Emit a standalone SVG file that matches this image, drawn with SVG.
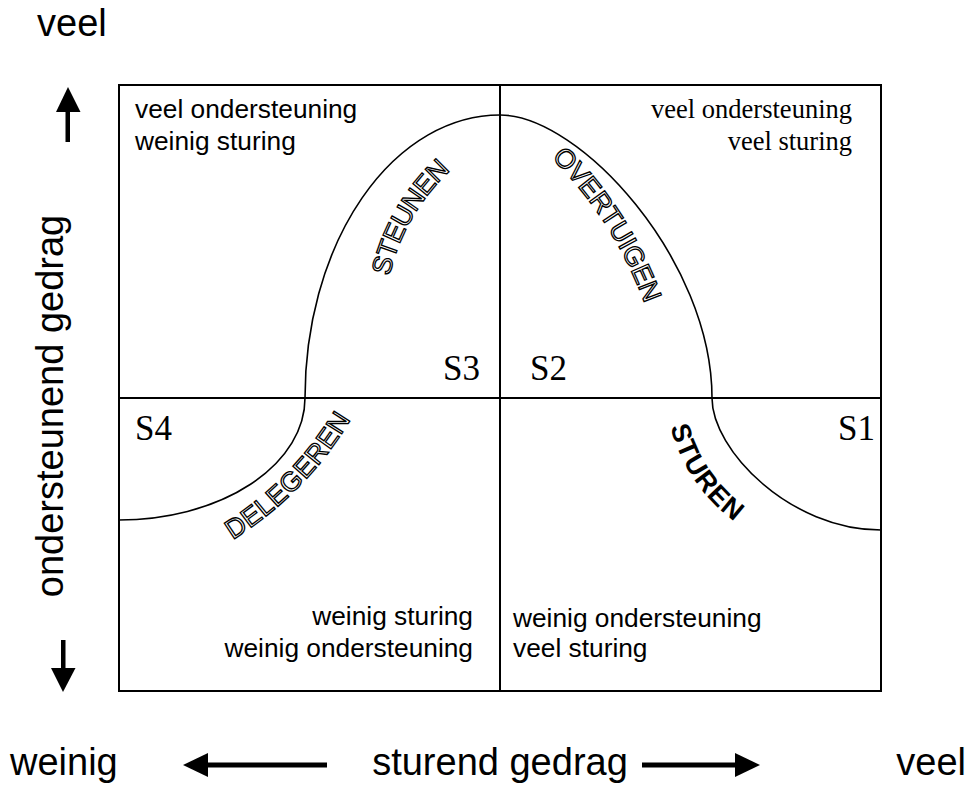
<svg xmlns="http://www.w3.org/2000/svg" width="971" height="787" viewBox="0 0 971 787">
  <style>
    .axis { font-family: "Liberation Sans", Arial, sans-serif; font-size: 38px; fill: #000; }
    .quad { font-family: "Liberation Sans", Arial, sans-serif; font-size: 26.3px; fill: #000; }
    .quad-serif { font-family: "Liberation Serif", "Times New Roman", serif; font-size: 26.5px; fill: #000; }
    .stage { font-family: "Liberation Serif", "Times New Roman", serif; font-size: 35px; fill: #000; }
    .style-outline { font-family: "Liberation Sans", Arial, sans-serif; font-size: 27px; fill: #fff; stroke: #000; stroke-width: 1.3; dominant-baseline: central; }
    .style-solid { font-family: "Liberation Sans", Arial, sans-serif; font-size: 27px; font-weight: bold; fill: #000; dominant-baseline: central; }
    .frame { fill: none; stroke: #000; stroke-width: 2; }
    .curve { fill: none; stroke: #000; stroke-width: 1.6; }
  </style>
  <defs>
    <path id="arc-steunen" d="M376.2,309.1 A210,210 0 0 1 472.4,142.4"/>
    <path id="arc-overtuigen" d="M542.6,137.3 A400,400 0 0 1 659.6,320.3"/>
    <path id="arc-delegeren" d="M204.7,545.5 A350,350 0 0 0 356,390.9"/>
    <path id="arc-sturen" d="M675,400.2 A160,160 0 0 0 760.9,527.3"/>
  </defs>

  <rect width="971" height="787" fill="#fff"/>

  <!-- quadrant grid -->
  <g id="grid">
    <rect class="frame" x="119" y="85" width="762" height="606"/>
    <line class="frame" x1="500" y1="85" x2="500" y2="691"/>
    <line class="frame" x1="119" y1="398" x2="881" y2="398"/>
  </g>

  <!-- situational leadership bell curve -->
  <g id="connectors">
    <path class="curve" d="M119,520 A186,122 0 0 0 305,398 A195,283 0 0 1 500,115 C580,115 712,260 712,398 C712,450 790,530 881,530"/>
  </g>

  <!-- axes -->
  <g id="axis-vertical">
    <text class="axis" x="37" y="36">veel</text>
    <rect x="65.5" y="111" width="4.5" height="31"/>
    <polygon points="56,112 80.5,112 68,87"/>
    <text class="axis" transform="translate(63,406) rotate(-90)" text-anchor="middle">ondersteunend gedrag</text>
    <rect x="61" y="640" width="4.5" height="29"/>
    <polygon points="51,668 75.5,668 63,692"/>
  </g>
  <g id="axis-horizontal">
    <text class="axis" x="10" y="775">weinig</text>
    <rect x="207" y="762.5" width="120" height="5"/>
    <polygon points="208,753 208,777 183,765"/>
    <text class="axis" x="500" y="775" text-anchor="middle">sturend gedrag</text>
    <rect x="642" y="762.5" width="95" height="5"/>
    <polygon points="735,753 735,777 760,765"/>
    <text class="axis" x="966" y="775" text-anchor="end">veel</text>
  </g>

  <!-- quadrant descriptions -->
  <g id="quadrant-s3">
    <text class="quad" x="135" y="118">veel ondersteuning</text>
    <text class="quad" x="135" y="150">weinig sturing</text>
    <text class="stage" x="480" y="380" text-anchor="end">S3</text>
    <text class="style-outline"><textPath href="#arc-steunen" startOffset="50%" text-anchor="middle">STEUNEN</textPath></text>
  </g>
  <g id="quadrant-s2">
    <text class="quad-serif" x="852" y="118" text-anchor="end">veel ondersteuning</text>
    <text class="quad-serif" x="852" y="150" text-anchor="end">veel sturing</text>
    <text class="stage" x="530" y="380">S2</text>
    <text class="style-outline"><textPath href="#arc-overtuigen" startOffset="50%" text-anchor="middle">OVERTUIGEN</textPath></text>
  </g>
  <g id="quadrant-s4">
    <text class="quad" x="473" y="625" text-anchor="end">weinig sturing</text>
    <text class="quad" x="473" y="657" text-anchor="end">weinig ondersteuning</text>
    <text class="stage" x="135" y="440">S4</text>
    <text class="style-outline"><textPath href="#arc-delegeren" startOffset="50%" text-anchor="middle">DELEGEREN</textPath></text>
  </g>
  <g id="quadrant-s1">
    <text class="quad" x="513" y="627">weinig ondersteuning</text>
    <text class="quad" x="513" y="657">veel sturing</text>
    <text class="stage" x="875" y="440" text-anchor="end">S1</text>
    <text class="style-solid"><textPath href="#arc-sturen" startOffset="50%" text-anchor="middle">STUREN</textPath></text>
  </g>
</svg>
